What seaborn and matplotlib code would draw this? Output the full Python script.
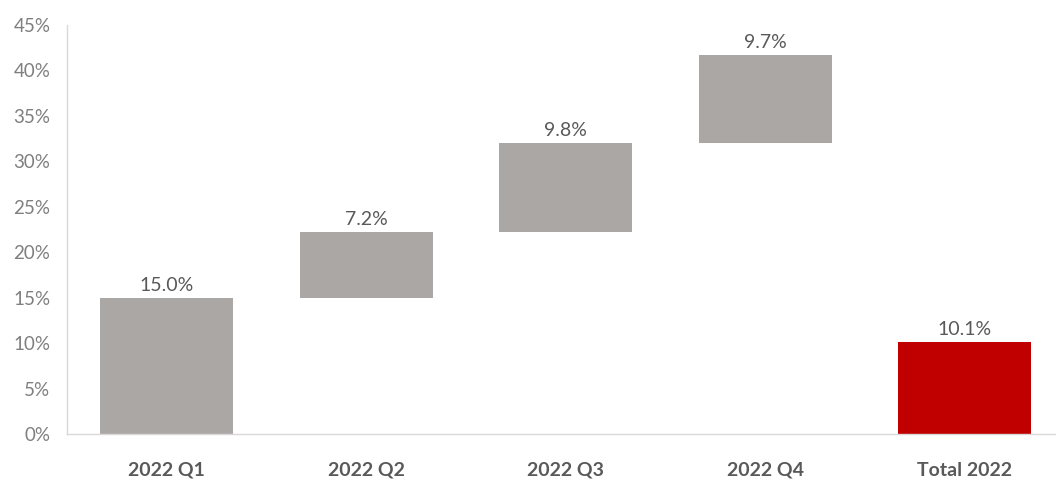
import matplotlib
matplotlib.use("Agg")
import matplotlib.pyplot as plt
import seaborn as sns
import pandas as pd
from matplotlib.ticker import FuncFormatter

categories = ["2022 Q1", "2022 Q2", "2022 Q3", "2022 Q4", "Total 2022"]
values = [15.0, 7.2, 9.8, 9.7, 10.1]
bases = [0.0, 15.0, 22.2, 32.0, 0.0]
labels = ["15.0%", "7.2%", "9.8%", "9.7%", "10.1%"]
colors = ["#ABA7A5", "#ABA7A5", "#ABA7A5", "#ABA7A5", "#C00000"]
yticks = [0, 5, 10, 15, 20, 25, 30, 35, 40, 45]

sns.set_theme(style="white")
plt.rcParams["font.family"] = ["Lato", "DejaVu Sans"]

df = pd.DataFrame({
    "cat": categories,
    "top": [b + v for b, v in zip(bases, values)],
    "base": bases,
    "label": labels,
})

fig = plt.figure(figsize=(10.56, 4.8), dpi=100)
ax = fig.add_axes([67 / 1056, 1 - 434 / 480, 1 - 67 / 1056, (434 - 25) / 480])

sns.barplot(data=df, x="cat", y="top", hue="cat", palette=colors, legend=False,
            width=0.667, saturation=1, ax=ax, linewidth=0, zorder=1)
sns.barplot(data=df, x="cat", y="base", color="white", width=0.7,
            saturation=1, ax=ax, linewidth=0, zorder=1.5)

for i, row in df.iterrows():
    ax.text(i, row["top"] + 0.45, row["label"], ha="center", va="bottom",
            fontsize=14, color="#595959")

ax.set_ylim(0, 45)
ax.set_xlim(-0.5, 4.457)
ax.set_yticks(yticks)
ax.yaxis.set_major_formatter(FuncFormatter(lambda v, p: f"{int(v)}%"))
ax.set_xlabel("")
ax.set_ylabel("")
ax.tick_params(axis="y", length=0, pad=12, labelsize=13.5, labelcolor="#7F7F7F")
ax.tick_params(axis="x", length=0, pad=20, labelsize=14, labelcolor="#595959")
for t in ax.get_xticklabels():
    t.set_fontweight("bold")
for s in ["top", "right"]:
    ax.spines[s].set_visible(False)
for s in ["left", "bottom"]:
    ax.spines[s].set_color("#D9D9D9")
    ax.spines[s].set_linewidth(1)
    ax.spines[s].set_zorder(3)

fig.savefig("out.png", dpi=100)
